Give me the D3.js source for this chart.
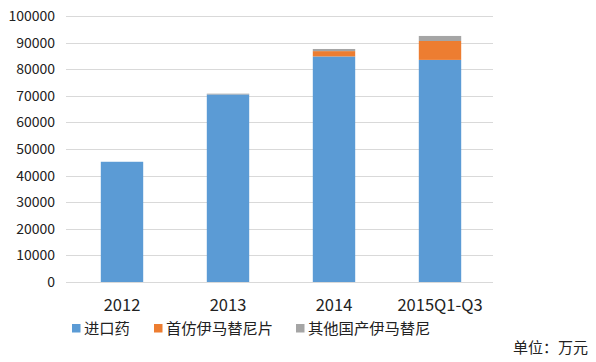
<!DOCTYPE html>
<html><head><meta charset="utf-8">
<script src="https://cdn.jsdelivr.net/npm/d3@7"></script>
<style>body{margin:0;background:#fff}text{font-family:"Noto Sans CJK SC","Noto Sans",sans-serif}</style>
</head><body>
<svg id="c" width="596" height="362"></svg>
<script>
const categories = ["2012","2013","2014","2015Q1-Q3"];
const seriesNames = ["进口药","首仿伊马替尼片","其他国产伊马替尼"];
const imported = [45200, 70500, 84800, 83500];
const firstGeneric = [0, 0, 2000, 7100];
const otherDomestic = [0, 300, 800, 1900];
const yTicks = [0,10000,20000,30000,40000,50000,60000,70000,80000,90000,100000];
const colors = ["#5B9BD5","#ED7D31","#A5A5A5"];
const unitLabel = "单位：万元";

const svg = d3.select("#c");
const x = d3.scaleBand().domain(categories).range([69,493]).paddingInner(0.6).paddingOuter(0.3);
const y = d3.scaleLinear().domain([0,100000]).range([282,16]);

svg.append("g").selectAll("line").data(yTicks).join("line")
  .attr("x1",66).attr("x2",493).attr("y1",d=>Math.round(y(d))+0.5).attr("y2",d=>Math.round(y(d))+0.5)
  .attr("stroke","#D9D9D9").attr("stroke-width",1);

svg.append("g").selectAll("text").data(yTicks).join("text")
  .attr("x",55).attr("y",d=>y(d)+5).attr("text-anchor","end")
  .attr("font-size",14).attr("fill","#222").text(d=>d);

const rows = categories.map((c,i)=>({cat:c, s0:imported[i], s1:firstGeneric[i], s2:otherDomestic[i]}));
const stack = d3.stack().keys(["s0","s1","s2"])(rows);
svg.append("g").selectAll("g").data(stack).join("g").attr("fill",(d,i)=>colors[i])
  .selectAll("rect").data(d=>d).join("rect")
  .attr("x",d=>x(d.data.cat)).attr("width",x.bandwidth())
  .attr("y",d=>y(d[1])).attr("height",d=>y(d[0])-y(d[1]));

svg.append("g").selectAll("text").data(categories).join("text")
  .attr("x",d=>x(d)+x.bandwidth()/2).attr("y",311).attr("text-anchor","middle")
  .attr("font-size",16.5).attr("fill","#222").text(d=>d);

const legX = [72,154,296];
const lg = svg.append("g").selectAll("g").data(seriesNames).join("g")
  .attr("transform",(d,i)=>`translate(${legX[i]},0)`);
lg.append("rect").attr("x",0).attr("y",324).attr("width",8.5).attr("height",8.5).attr("fill",(d,i)=>colors[i]);
lg.append("text").attr("x",12).attr("y",334).attr("font-size",15.3).attr("fill","#222").text(d=>d);

svg.append("text").attr("x",513).attr("y",353).attr("font-size",15).attr("fill","#222").text(unitLabel);
</script>
</body></html>
